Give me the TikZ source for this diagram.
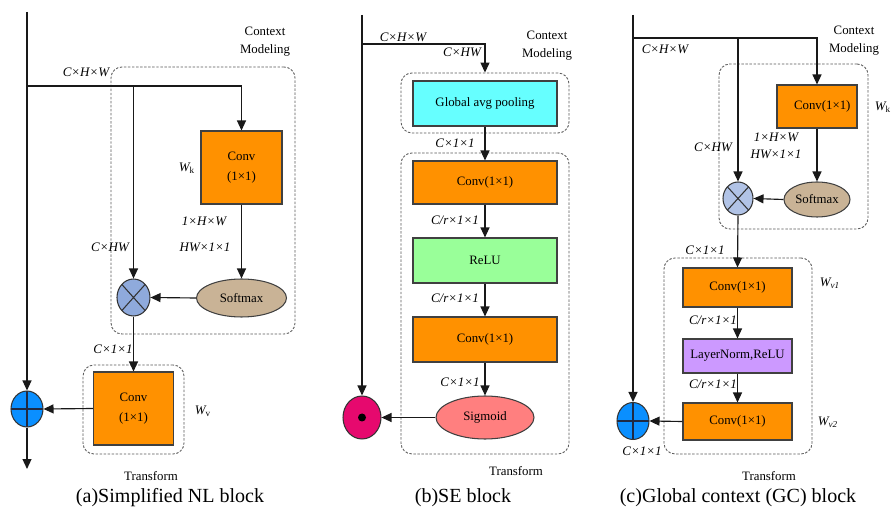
\documentclass[tikz,border=0pt]{standalone}
\usepackage{fontspec}
\setmainfont{Liberation Serif}
\usetikzlibrary{arrows.meta, shapes.geometric, fit}
\definecolor{convorange}{HTML}{FF9100}
\definecolor{poolcyan}{HTML}{66FFFF}
\definecolor{relugreen}{HTML}{99FF99}
\definecolor{lnpurple}{HTML}{CC99FF}
\definecolor{softtan}{HTML}{C9B396}
\definecolor{sigred}{HTML}{FF7F7F}
\definecolor{mulblue}{HTML}{8FAADC}
\definecolor{addblue}{HTML}{0A8FFF}
\definecolor{dotred}{HTML}{E6096E}
\definecolor{crossnavy}{HTML}{1F2A44}

\begin{document}
\begin{tikzpicture}[x=0.02cm, y=-0.02cm,
      box/.style={draw=black!75, line width=0.6pt, align=center, inner sep=0pt,
        font=\fontsize{7.3}{9}\selectfont},
      conv/.style={box, fill=convorange},
      oval/.style={ellipse, draw=black!75, line width=0.6pt, inner sep=0pt,
        font=\fontsize{7.3}{9}\selectfont},
      mulop/.style={ellipse, draw=black!80, fill=mulblue, line width=0.6pt, inner sep=0pt,
        path picture={\draw[line width=0.6pt]
          (path picture bounding box.north west) -- (path picture bounding box.south east)
          (path picture bounding box.north east) -- (path picture bounding box.south west);}},
      addop/.style={ellipse, draw=black!80, fill=addblue, line width=0.6pt, inner sep=0pt,
        path picture={\draw[crossnavy, line width=0.8pt]
          (path picture bounding box.north) -- (path picture bounding box.south)
          (path picture bounding box.west) -- (path picture bounding box.east);}},
      dotop/.style={ellipse, draw=black!80, fill=dotred, line width=0.6pt, inner sep=0pt,
        path picture={\fill[black] (path picture bounding box.center) circle (0.08cm);}},
      dashbox/.style={draw=black!65, dash pattern=on 1.4pt off 0.9pt, line width=0.5pt,
        rounded corners=0.22cm, inner sep=0pt},
      dimlbl/.style={font=\fontsize{7.4}{9}\selectfont\itshape, inner sep=0pt},
      note/.style={font=\fontsize{7.3}{10.2}\selectfont, align=center, inner sep=0pt},
      caption/.style={font=\fontsize{11.4}{13}\selectfont, inner sep=0pt},
      linie/.style={line width=0.65pt, black!90},
      pfeil/.style={linie, -{Triangle[length=2mm, width=1.8mm]}}]
    \useasboundingbox (0,0) rectangle (892,509);

    % ---------------- (a) simplified NL block
    \node[dashbox, fit={(111,67) (295,334)}] (a-ctx) {};
    \node[dashbox, fit={(83,365) (184,454)}] (a-tf) {};
    \coordinate (a-in) at (27,12);
    \coordinate (a-split) at (27,86);
    \coordinate (a-out) at (27,469);
    \node[conv, minimum width=1.62cm, minimum height=1.46cm] (a-wk) at (241.5,167.5) {Conv\\[2pt](1×1)};
    \node[oval, fill=softtan, minimum width=1.8cm, minimum height=0.76cm] (a-soft) at (241.5,298) {Softmax};
    \node[mulop, minimum width=0.66cm, minimum height=0.74cm] (a-mul) at (133.5,297.5) {};
    \node[conv, minimum width=1.6cm, minimum height=1.46cm] (a-wv) at (133.5,408.5) {Conv\\[2pt](1×1)};
    \node[addop, minimum width=0.64cm, minimum height=0.72cm] (a-add) at (27,409) {};
    \draw[pfeil] (a-in) -- (a-add.north);
    \draw[pfeil] (a-add.south) -- (a-out);
    \draw[pfeil] (a-split) -| (a-wk.north);
    \draw[pfeil] (a-mul |- a-split) -- (a-mul.north);
    \draw[pfeil] (a-wk.south) -- (a-soft.north);
    \draw[pfeil] (a-soft.west) -- (a-mul.east);
    \draw[pfeil] (a-mul.south) -- (a-wv.north);
    \draw[pfeil] (a-wv.west) -- (a-add.east);
    \node[note] (a-ctxlbl) at (265,42) {Context\\Modeling};
    \node[dimlbl] (a-d1) at (86,72) {C×H×W};
    \node[dimlbl] (a-wklbl) at (187,168) {W\textsubscript{\upshape k}};
    \node[dimlbl] (a-d2) at (204,221) {1×H×W};
    \node[dimlbl] (a-d3) at (205,247) {HW×1×1};
    \node[dimlbl] (a-d4) at (110,247) {C×HW};
    \node[dimlbl] (a-d5) at (113,349) {C×1×1};
    \node[dimlbl] (a-wvlbl) at (203,411) {W\textsubscript{\upshape v}};
    \node[note] (a-tflbl) at (151,476) {Transform};
    \node[caption] (a-cap) at (170,498) {(a)Simplified NL block};

    % ---------------- (b) SE block
    \node[box, fill=poolcyan, minimum width=2.88cm, minimum height=0.9cm] (b-gap) at (485,103.5) {Global avg pooling};
    \node[dashbox, fit={(401,73) (569,133)}] (b-ctx) {};
    \node[dashbox, fit={(401,153) (569,454)}] (b-tf) {};
    \node[conv, minimum width=2.88cm, minimum height=0.86cm] (b-conv1) at (485,182.5) {Conv(1×1)};
    \node[box, fill=relugreen, minimum width=2.88cm, minimum height=0.9cm] (b-relu) at (485,260.5) {ReLU};
    \node[conv, minimum width=2.88cm, minimum height=0.9cm] (b-conv2) at (485,339.5) {Conv(1×1)};
    \node[oval, fill=sigred, minimum width=1.96cm, minimum height=0.86cm] (b-sig) at (485,417.5) {Sigmoid};
    \node[dotop, minimum width=0.76cm, minimum height=0.86cm] (b-mul) at (362,417.5) {};
    \coordinate (b-in) at (362,15);
    \coordinate (b-split) at (362,44);
    \draw[pfeil] (b-in) -- (b-mul.north);
    \draw[pfeil] (b-split) -| (b-ctx.north);
    \draw[pfeil] (b-gap.south) -- (b-conv1.north);
    \draw[pfeil] (b-conv1.south) -- (b-relu.north);
    \draw[pfeil] (b-relu.south) -- (b-conv2.north);
    \draw[pfeil] (b-conv2.south) -- (b-sig.north);
    \draw[pfeil] (b-sig.west) -- (b-mul.east);
    \node[dimlbl] (b-d1) at (403,37) {C×H×W};
    \node[dimlbl] (b-d2) at (462,52) {C×HW};
    \node[note] (b-ctxlbl) at (547,45.5) {Context\\Modeling};
    \node[dimlbl] (b-d3) at (455,143) {C×1×1};
    \node[dimlbl] (b-d4) at (455,220) {C/r×1×1};
    \node[dimlbl] (b-d5) at (455,298) {C/r×1×1};
    \node[dimlbl] (b-d6) at (460,382) {C×1×1};
    \node[note] (b-tflbl) at (516,471) {Transform};
    \node[caption] (b-cap) at (463,498) {(b)SE block};

    % ---------------- (c) GC block
    \node[dashbox, fit={(719,64) (868,229)}] (c-ctx) {};
    \node[dashbox, fit={(664,258) (812,454)}] (c-tf) {};
    \node[conv, minimum width=1.6cm, minimum height=0.86cm] (c-wk) at (817,106.5) {\hspace{6pt}Conv(1×1)};
    \node[oval, fill=softtan, minimum width=1.32cm, minimum height=0.7cm] (c-soft) at (817,199.5) {Softmax};
    \node[mulop, fill=mulblue!70, minimum width=0.6cm, minimum height=0.66cm] (c-mul) at (738,198.5) {};
    \node[conv, minimum width=2.18cm, minimum height=0.78cm] (c-wv1) at (737.5,287.5) {Conv(1×1)};
    \node[box, fill=lnpurple, minimum width=2.18cm, minimum height=0.68cm] (c-ln) at (737.5,356) {LayerNorm,ReLU};
    \node[conv, minimum width=2.18cm, minimum height=0.74cm] (c-wv2) at (737.5,421.5) {Conv(1×1)};
    \node[addop, minimum width=0.64cm, minimum height=0.74cm] (c-add) at (633,421) {};
    \coordinate (c-in) at (633,15);
    \coordinate (c-split) at (633,38);
    \draw[pfeil] (c-in) -- (c-add.north);
    \draw[pfeil] (c-split) -| (c-wk.north);
    \draw[pfeil] (c-mul |- c-split) -- (c-mul.north);
    \draw[pfeil] (c-wk.south) -- (c-soft.north);
    \draw[pfeil] (c-soft.west) -- (c-mul.east);
    \draw[pfeil] (c-mul.south) -- (c-wv1.north);
    \draw[pfeil] (c-wv1.south) -- (c-ln.north);
    \draw[pfeil] (c-ln.south) -- (c-wv2.north);
    \draw[pfeil] (c-wv2.west) -- (c-add.east);
    \node[dimlbl] (c-d1) at (665,49) {C×H×W};
    \node[note] (c-ctxlbl) at (854,40.5) {Context\\Modeling};
    \node[dimlbl] (c-wklbl) at (883,107) {W\textsubscript{\upshape k}};
    \node[dimlbl] (c-d2) at (776,137) {1×H×W};
    \node[dimlbl] (c-d3) at (776,154) {HW×1×1};
    \node[dimlbl] (c-d4) at (713,147) {C×HW};
    \node[dimlbl] (c-d5) at (705,250) {C×1×1};
    \node[dimlbl] (c-wv1lbl) at (830,283) {W\textsubscript{v1}};
    \node[dimlbl] (c-d6) at (713,320) {C/r×1×1};
    \node[dimlbl] (c-d7) at (713,384) {C/r×1×1};
    \node[dimlbl] (c-wv2lbl) at (828,422) {W\textsubscript{v2}};
    \node[dimlbl] (c-d8) at (642,451) {C×1×1};
    \node[note] (c-tflbl) at (769,476) {Transform};
    \node[caption] (c-cap) at (738,498) {(c)Global context (GC) block};
  \end{tikzpicture}
\end{document}
